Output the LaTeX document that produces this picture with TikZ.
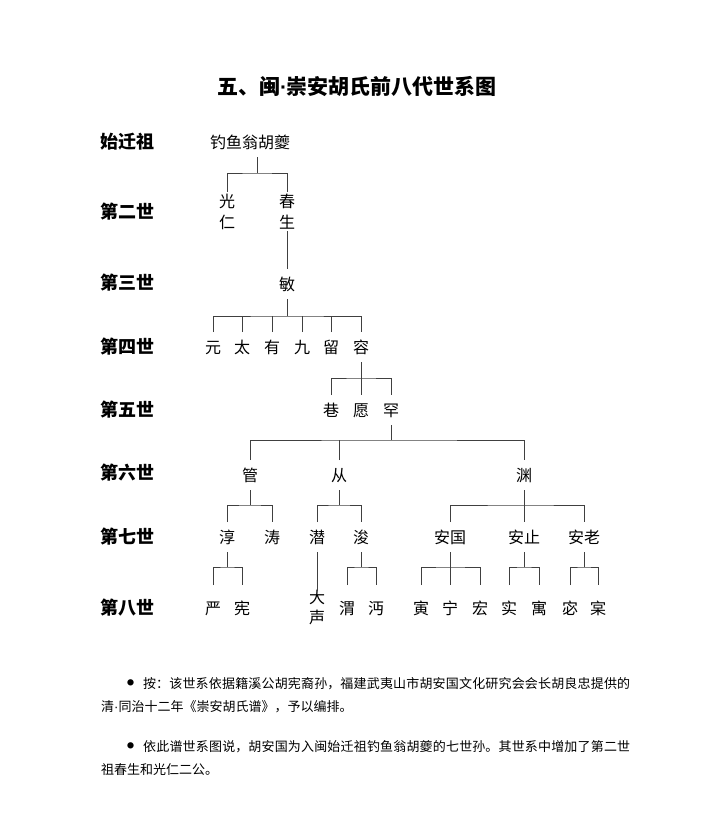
\documentclass[tikz,border=0pt]{standalone}
\usepackage{fontspec}
\setmainfont{Noto Sans CJK SC}
\newfontfamily\latinfont{Liberation Sans}
\XeTeXlinebreaklocale "zh"
\XeTeXlinebreakskip=0pt plus 1pt

\tikzset{
  person/.style={font=\fontsize{16}{16}\selectfont, inner sep=0pt,
    text height=13.3pt, text depth=1.1pt, outer ysep=7.8pt},
  stack/.style={person, outer ysep=2pt},
  leaf/.style={person, outer ysep=15.8pt},
  gen/.style={font=\fontsize{18}{18}\selectfont\bfseries, anchor=west,
    inner sep=0pt, text height=15pt, text depth=1.3pt},
  link/.style={draw=black!75, line width=0.8pt},
  note/.style={anchor=base west, text width=529pt, align=justify,
    inner sep=0pt, font=\fontsize{13}{23}\selectfont},
}
\newcommand{\notedot}{\hspace*{26pt}\makebox[16pt][l]{\raisebox{2.2pt}{\fontsize{7}{7}\selectfont ●}}}
\newcommand{\middot}{{\latinfont ·}}

\begin{document}
\begin{tikzpicture}[x=1pt, y=-1pt]
  \useasboundingbox (0,0) rectangle (723,838);

  \node[font=\fontsize{21}{21}\selectfont\bfseries, inner sep=0pt] (title) at (357,86) {五、闽\middot 崇安胡氏前八代世系图};

  % generations
  \node[gen] (g1) at (100,142) {始迁祖};
  \node[gen] (g2) at (100,212) {第二世};
  \node[gen] (g3) at (100,283) {第三世};
  \node[gen] (g4) at (100,347) {第四世};
  \node[gen] (g5) at (100,410) {第五世};
  \node[gen] (g6) at (100,473) {第六世};
  \node[gen] (g7) at (100,537) {第七世};
  \node[gen] (g8) at (100,608) {第八世};

  % persons
  \node[person] (fish) at (250,142) {钓鱼翁胡夔};
  \node[stack] (guang) at (227,201) {光};
  \node[stack] (ren) at (227,222) {仁};
  \node[stack] (chun) at (287,201) {春};
  \node[stack] (sheng) at (287,222) {生};
  \node[person] (min) at (287,284) {敏};

  \node[person] (yuan) at (213,347) {元};
  \node[person] (tai) at (242,347) {太};
  \node[person] (you) at (272,347) {有};
  \node[person] (jiu) at (302,347) {九};
  \node[person] (liu) at (331,347) {留};
  \node[person] (rong) at (361,347) {容};

  \node[person] (xiang) at (331,410) {巷};
  \node[person] (yuan5) at (361,410) {愿};
  \node[person] (han) at (391,410) {罕};

  \node[person] (guan) at (250,475) {管};
  \node[person] (cong) at (339,475) {从};
  \node[person] (yuan6) at (524,475) {渊};

  \node[person] (chun7) at (227,537) {淳};
  \node[person] (tao) at (272,537) {涛};
  \node[person] (qian) at (317,537) {潜};
  \node[person] (jun) at (361,537) {浚};
  \node[person] (anguo) at (450,537) {安国};
  \node[person] (anzhi) at (524,537) {安止};
  \node[person] (anlao) at (584,537) {安老};

  \node[leaf] (yan) at (213,608) {严};
  \node[leaf] (xian) at (242,608) {宪};
  \node[stack, outer ysep=-1pt] (da) at (317,597) {大};
  \node[stack] (sheng8) at (317,617) {声};
  \node[leaf] (wei) at (347,608) {渭};
  \node[leaf] (mian) at (376,608) {沔};
  \node[leaf] (yin) at (421,608) {寅};
  \node[leaf] (ning) at (450,608) {宁};
  \node[leaf] (hong) at (480,608) {宏};
  \node[leaf] (shi) at (509,608) {实};
  \node[leaf] (yu) at (539,608) {寓};
  \node[leaf] (mi) at (570,608) {宓};
  \node[leaf] (bao) at (598,608) {宲};

  % bars
  \coordinate (b0) at (257,173);
  \coordinate (b1) at (287,316);
  \coordinate (b2) at (361,378);
  \coordinate (b3) at (391,440);
  \coordinate (b4) at (250,505);
  \coordinate (b5) at (339,505);
  \coordinate (b6) at (524,505);
  \coordinate (b7) at (227,567);
  \coordinate (b8) at (361,567);
  \coordinate (b9) at (450,567);
  \coordinate (b10) at (524,567);
  \coordinate (b11) at (584,567);

  \draw[link] (fish.south -| b0) -- (b0);
  \draw[link] (guang.north) |- (b0) -| (chun.north);
  \draw[link] (sheng.south) -- (min.north);

  \draw[link] (min.south) -- (b1);
  \draw[link] (yuan.north) |- (b1) -| (rong.north);
  \draw[link] (tai.north) -- (tai.north |- b1);
  \draw[link] (you.north) -- (you.north |- b1);
  \draw[link] (jiu.north) -- (jiu.north |- b1);
  \draw[link] (liu.north) -- (liu.north |- b1);

  \draw[link] (rong.south) -- (yuan5.north);
  \draw[link] (xiang.north) |- (b2) -| (han.north);

  \draw[link] (han.south) -- (b3);
  \draw[link] (guan.north) |- (b3) -| (yuan6.north);
  \draw[link] (cong.north) -- (cong.north |- b3);

  \draw[link] (guan.south) -- (b4);
  \draw[link] (chun7.north) |- (b4) -| (tao.north);
  \draw[link] (cong.south) -- (b5);
  \draw[link] (qian.north) |- (b5) -| (jun.north);
  \draw[link] (yuan6.south) -- (anzhi.north);
  \draw[link] (anguo.north) |- (b6) -| (anlao.north);

  \draw[link] (chun7.south) -- (b7);
  \draw[link] (yan.north) |- (b7) -| (xian.north);
  \draw[link] (qian.south) -- (da.north);
  \draw[link] (jun.south) -- (b8);
  \draw[link] (wei.north) |- (b8) -| (mian.north);
  \draw[link] (anguo.south) -- (ning.north);
  \draw[link] (yin.north) |- (b9) -| (hong.north);
  \draw[link] (anzhi.south) -- (b10);
  \draw[link] (shi.north) |- (b10) -| (yu.north);
  \draw[link] (anlao.south) -- (b11);
  \draw[link] (mi.north) |- (b11) -| (bao.north);

  % notes
  \node[note] (note1) at (101,688) {\noindent\notedot 按：该世系依据籍溪公胡宪裔孙，福建武夷山市胡安国文化研究会会长胡良忠提供的\linebreak 清\middot 同治十二年《崇安胡氏谱》，予以编排。};
  \node[note] (note2) at (101,751) {\noindent\notedot 依此谱世系图说，胡安国为入闽始迁祖钓鱼翁胡夔的七世孙。其世系中增加了第二世\linebreak 祖春生和光仁二公。};
\end{tikzpicture}
\end{document}
